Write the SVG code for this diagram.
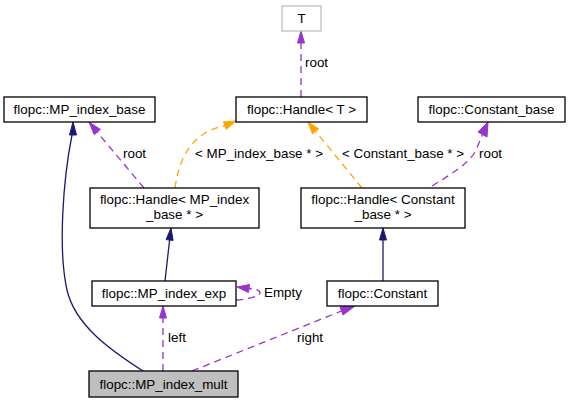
<svg xmlns="http://www.w3.org/2000/svg" width="571" height="403" viewBox="0 0 571 403">
<style>
text{font-family:"Liberation Sans",Arial,sans-serif;font-size:13.4px;fill:#000}
.n{text-anchor:middle}
.box{fill:#fff;stroke:#000;stroke-width:1.3}
.gray{fill:#fff;stroke:#bfbfbf;stroke-width:1.3}
.cur{fill:#bfbfbf;stroke:#000;stroke-width:1.3}
.inh{fill:none;stroke:#191970;stroke-width:1.3}
.inhA{fill:#191970;stroke:#191970}
.use{fill:none;stroke:#9a32cd;stroke-width:1.3;stroke-dasharray:7,5}
.useA{fill:#9a32cd;stroke:#9a32cd}
.tpl{fill:none;stroke:#ffa500;stroke-width:1.3;stroke-dasharray:7,5}
.tplA{fill:#ffa500;stroke:#ffa500}
</style>
<g id="edges">
<path class="inh" d="M143,371 C110,350 75,325 67,290 C58,250 63,180 72,135"/>
<polygon class="inhA" points="73,122 76.5,135 69.5,135"/>
<path class="use" d="M144,188 L97,132"/>
<polygon class="useA" points="89,122 94.2,134.6 100.4,129.4"/>
<text x="123" y="158">root</text>
<path class="tpl" d="M175,188 C178,168 183,152 197,139 C205,132 214,128 225,125.6"/>
<polygon class="tplA" points="236,121 223.4,121.9 226.4,129.3"/>
<text x="195" y="158">&lt; MP_index_base * &gt;</text>
<path class="tpl" d="M362,188 L315.6,131.3"/>
<polygon class="tplA" points="308,122 318.7,128.8 312.5,133.8"/>
<text x="342" y="158">&lt; Constant_base * &gt;</text>
<path class="use" d="M432,186 C450,175 468,164 475,152 C478,146 480,140 482.5,134.5"/>
<polygon class="useA" points="488,122 487,137 478,132"/>
<text x="479" y="158">root</text>
<path class="use" d="M301,97 L301,43"/>
<polygon class="useA" points="301,31 304.5,43 297.5,43"/>
<text x="305" y="67">root</text>
<path class="inh" d="M165,281 L169.6,240"/>
<polygon class="inhA" points="171,228 173.1,240.4 166.1,239.6"/>
<path class="inh" d="M383,281 L383,240"/>
<polygon class="inhA" points="383,228 386.5,240 379.5,240"/>
<path class="use" d="M236,300 C250,299 260,296 260,293 C260,290 256,289 249,288.5"/>
<polygon class="useA" points="237,287 249.5,284.5 248.5,292.5"/>
<text x="264" y="297">Empty</text>
<path class="use" d="M163,371 L163,318"/>
<polygon class="useA" points="163,306 166.5,318 159.5,318"/>
<text x="168" y="342">left</text>
<path class="use" d="M192,371 L341.5,311"/>
<polygon class="useA" points="355,306 340,307 343,315"/>
<text x="297" y="342">right</text>
</g>
<g id="node-T">
<rect class="gray" x="282" y="6" width="39" height="25"/>
<text class="n" x="301.5" y="23">T</text>
</g>
<g id="node-HandleT">
<rect class="box" x="236" y="97" width="131" height="25"/>
<text class="n" x="301.5" y="114">flopc::Handle&lt; T &gt;</text>
</g>
<g id="node-MP_index_base">
<rect class="box" x="4" y="97" width="151" height="25"/>
<text class="n" x="79.5" y="114">flopc::MP_index_base</text>
</g>
<g id="node-Constant_base">
<rect class="box" x="418" y="97" width="147" height="25"/>
<text class="n" x="491.5" y="114">flopc::Constant_base</text>
</g>
<g id="node-HandleMP">
<rect class="box" x="90" y="188" width="169" height="40"/>
<text class="n" x="174.5" y="204">flopc::Handle&lt; MP_index</text>
<text class="n" x="174.5" y="219">_base * &gt;</text>
</g>
<g id="node-HandleConst">
<rect class="box" x="301" y="188" width="164" height="40"/>
<text class="n" x="383" y="204">flopc::Handle&lt; Constant</text>
<text class="n" x="383" y="219">_base * &gt;</text>
</g>
<g id="node-MP_index_exp">
<rect class="box" x="92" y="281" width="144" height="25"/>
<text class="n" x="164" y="298">flopc::MP_index_exp</text>
</g>
<g id="node-Constant">
<rect class="box" x="327" y="281" width="111" height="25"/>
<text class="n" x="382.5" y="298">flopc::Constant</text>
</g>
<g id="node-MP_index_mult">
<rect class="cur" x="89" y="371" width="149" height="26"/>
<text class="n" x="163.5" y="389">flopc::MP_index_mult</text>
</g>
</svg>
